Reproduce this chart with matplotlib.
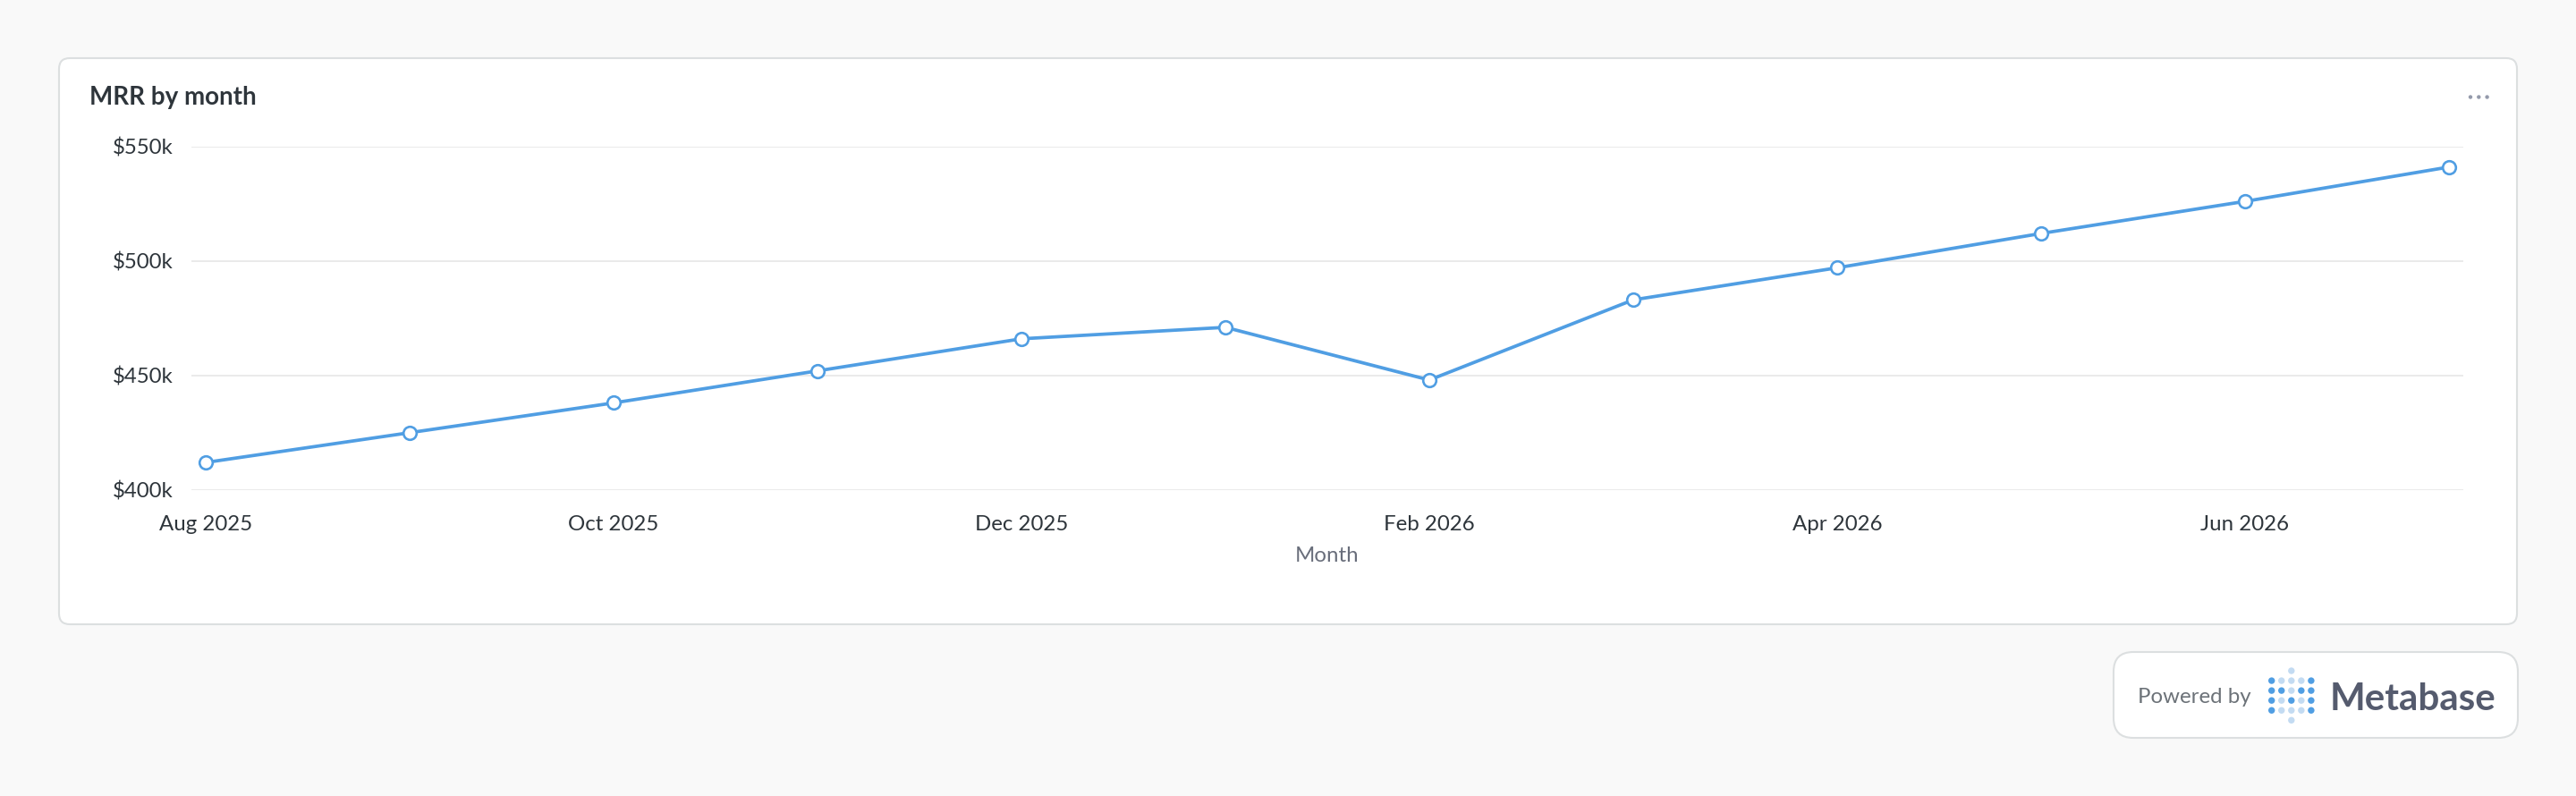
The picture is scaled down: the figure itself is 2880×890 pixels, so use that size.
import matplotlib
matplotlib.use("Agg")
import matplotlib.pyplot as plt
from matplotlib.patches import FancyBboxPatch, Circle
from matplotlib.transforms import IdentityTransform

# ---- data ----
months = ["Aug 2025", "Sep 2025", "Oct 2025", "Nov 2025", "Dec 2025", "Jan 2026",
          "Feb 2026", "Mar 2026", "Apr 2026", "May 2026", "Jun 2026", "Jul 2026"]
mrr_k = [412, 425, 438, 452, 466, 471, 448, 483, 497, 512, 526, 541]
y_ticks = [400, 450, 500, 550]
y_tick_labels = ["$400k", "$450k", "$500k", "$550k"]
title = "MRR by month"
x_label = "Month"

W, H = 2880, 890
plt.rcParams['font.family'] = ['Lato', 'DejaVu Sans']

fig = plt.figure(figsize=(W / 100, H / 100), dpi=100)
fig.patch.set_facecolor("#f9f9f9")
ident = IdentityTransform()


def px(x, y):
    """top-left pixel -> display coords (bottom-left origin)"""
    return x, H - y


def rbox(x0, y0, x1, y1, r, fc, ec, lw):
    bx, by = px(x0, y1)
    p = FancyBboxPatch((bx, by), x1 - x0, y1 - y0,
                       boxstyle=f"round,pad=0,rounding_size={r}",
                       fc=fc, ec=ec, lw=lw, transform=ident, zorder=-5)
    fig.patches.append(p)


# card
rbox(66, 65, 2814, 698, 12, "white", "#dcdfe0", 1.5)
# badge
rbox(2363, 729, 2815, 825, 22, "white", "#dcdfe0", 1.5)

# title
fig.text(*px(100, 117.5), title, transform=ident, fontsize=20, fontweight="bold",
         color="#2e353b", va="baseline", ha="left")

# "..." menu
for i in range(3):
    fig.patches.append(Circle(px(2762 + i * 9.3, 108.5), 2.2, transform=ident,
                              fc="#949aab", ec="none", zorder=2))

# axes
ax_l, ax_r, ax_t, ax_b = 214, 2754, 163.7, 547.8
ax = fig.add_axes([ax_l / W, 1 - ax_b / H, (ax_r - ax_l) / W, (ax_b - ax_t) / H])
ax.set_zorder(1)
ax.set_facecolor("none")
x = list(range(len(months)))
step = (2738 - 230) / 11
ax.set_xlim(-(230 - ax_l) / step, 11 + (ax_r - 2738) / step)
ax.set_ylim(min(y_ticks), max(y_ticks))
for s in ax.spines.values():
    s.set_visible(False)
ax.set_yticks(y_ticks)
ax.set_yticklabels(y_tick_labels)
ax.yaxis.grid(True, color="#e8e8e8", lw=1.3)
ax.set_axisbelow(True)
ax.set_xticks(x[::2])
ax.set_xticklabels(months[::2])
ax.tick_params(axis="both", length=0, labelsize=17.3, labelcolor="#2e353b")
ax.tick_params(axis="y", pad=15)
ax.tick_params(axis="x", pad=20)

ax.plot(x, mrr_k, color="#509ee3", lw=2.7, marker="o", ms=10.5,
        mfc="white", mec="#509ee3", mew=1.9, zorder=3, clip_on=False)

fig.text(*px((ax_l + ax_r) / 2, 627.5), x_label, transform=ident, fontsize=17.3,
         color="#696e7b", ha="center", va="baseline")

# Powered by badge
fig.text(*px(2390, 786.5), "Powered by", transform=ident, fontsize=17.3,
         color="#6c7278", ha="left", va="baseline")
dark, light = "#509ee3", "#c3dbf2"
pattern = [
    "..L..",
    "DLLLD",
    "DDLDD",
    "DLDLD",
    "DLLLD",
    "..L..",
]
for r, row in enumerate(pattern):
    for c, ch in enumerate(row):
        if ch == ".":
            continue
        fig.patches.append(Circle(px(2539.7 + c * 11.05, 750 + r * 11.06), 3.7,
                                  transform=ident, fc=dark if ch == "D" else light,
                                  ec="none", zorder=2))
fig.text(*px(2605, 793.7), "Metabase", transform=ident, fontsize=30.3,
         fontweight="bold", color="#555b6e", ha="left", va="baseline")

fig.savefig("out.png", dpi=100, facecolor=fig.get_facecolor())
